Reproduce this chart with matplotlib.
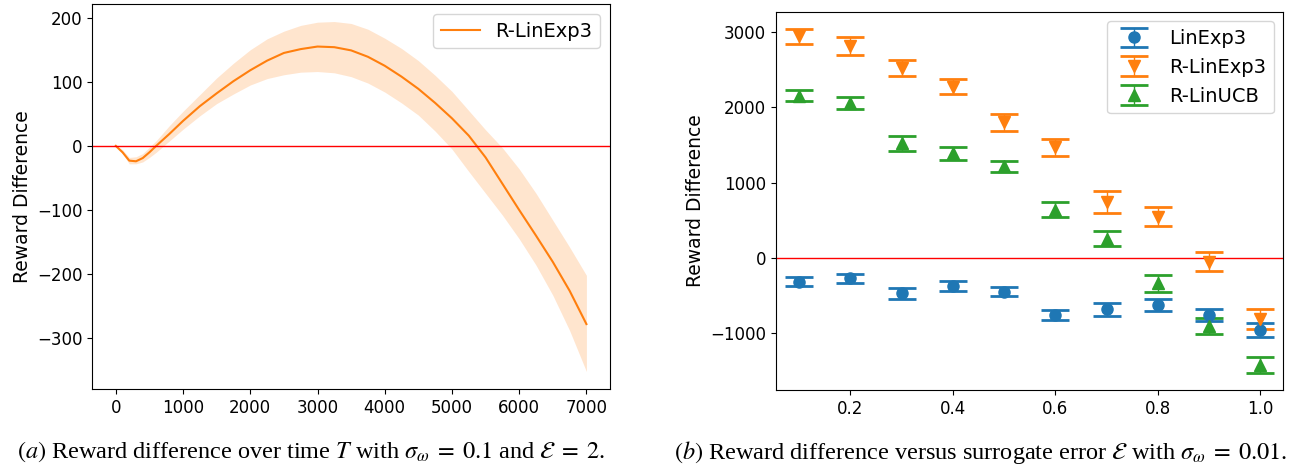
import numpy as np
import matplotlib
matplotlib.use('Agg')
import matplotlib.pyplot as plt

plt.rcParams['mathtext.fontset'] = 'stix'

# (a) reward difference over time
t = [0, 100, 200, 300, 400, 500, 600, 800, 1000, 1250, 1500, 1750, 2000, 2250,
     2500, 2750, 3000, 3250, 3500, 3750, 4000, 4250, 4500, 4750, 5000, 5250,
     5500, 5750, 6000, 6250, 6500, 6750, 7000]
mean_diff = [0, -10, -23, -24, -19, -10, 0, 19, 39, 62, 82, 101, 118, 133,
             145, 151, 155, 154, 149, 139, 125, 108, 89, 67, 43, 16,
             -18, -59, -100, -140, -181, -226, -278]
upper_diff = [0, -6, -18, -17, -12, -2, 8, 32, 54, 80, 106, 129, 150, 167,
              179, 188, 193, 194, 191, 182, 168, 152, 133, 110, 85, 55,
              25, -3, -36, -74, -116, -158, -202]
lower_diff = [0, -12, -28, -28, -25, -18, -10, 8, 26, 47, 66, 81, 95, 105,
              111, 115, 116, 114, 108, 98, 84, 67, 48, 23, -5, -40,
              -74, -108, -145, -186, -233, -288, -352]

# (b) reward difference versus surrogate error
err_levels = [0.1, 0.2, 0.3, 0.4, 0.5, 0.6, 0.7, 0.8, 0.9, 1.0]
linexp3_mean = [-320, -274, -478, -375, -455, -765, -688, -632, -765, -962]
linexp3_err = [55, 58, 68, 66, 62, 71, 84, 76, 80, 90]
rlinexp3_mean = [2947, 2822, 2528, 2278, 1802, 1468, 737, 545, -55, -816]
rlinexp3_err = [100, 122, 110, 104, 116, 118, 144, 124, 130, 130]
rlinucb_mean = [2158, 2059, 1521, 1390, 1215, 640, 252, -345, -907, -1429]
rlinucb_err = [78, 80, 95, 84, 78, 95, 98, 115, 106, 106]

fig = plt.figure(figsize=(12.89, 4.70), dpi=100)
ax1 = fig.add_axes([0.0716, 0.1723, 0.4016, 0.8191])
ax2 = fig.add_axes([0.602, 0.1702, 0.3937, 0.8049])

# left panel
ax1.plot(t, mean_diff, color='C1', linewidth=1.5, label='R-LinExp3')
ax1.fill_between(t, lower_diff, upper_diff, color='C1', alpha=0.2, linewidth=0)
ax1.axhline(0, color='red', linewidth=1)
ax1.set_ylabel('Reward Difference', fontsize=13.5)
ax1.set_xticks(range(0, 7001, 1000))
ax1.tick_params(labelsize=12)
ax1.legend(loc='upper right', fontsize=14)

# right panel
ax2.errorbar(err_levels, linexp3_mean, yerr=linexp3_err, fmt='o', color='C0',
             markersize=8, capsize=10, capthick=2, elinewidth=1, label='LinExp3')
ax2.errorbar(err_levels, rlinexp3_mean, yerr=rlinexp3_err, fmt='v', color='C1',
             markersize=8, capsize=10, capthick=2, elinewidth=1, label='R-LinExp3')
ax2.errorbar(err_levels, rlinucb_mean, yerr=rlinucb_err, fmt='^', color='C2',
             markersize=8, capsize=10, capthick=2, elinewidth=1, label='R-LinUCB')
ax2.axhline(0, color='red', linewidth=1)
ax2.set_ylabel('Reward Difference', fontsize=13.5)
ax2.set_yticks([-1000, 0, 1000, 2000, 3000])
ax2.tick_params(labelsize=12)
ax2.legend(loc='upper right', fontsize=14)

cap_font = dict(family='Liberation Serif', fontsize=17.5, va='center', ha='center')
fig.text(0.2417, 0.038,
         r'$\mathit{(a)}$ Reward difference over time $T$ with $\sigma_\omega\;=\;0.1$ and $\mathcal{E}\;=\;2$.',
         **cap_font)
fig.text(0.7607, 0.038,
         r'$\mathit{(b)}$ Reward difference versus surrogate error $\mathcal{E}$ with $\sigma_\omega\;=\;0.01$.',
         **cap_font)

fig.savefig('out.png', dpi=100)
